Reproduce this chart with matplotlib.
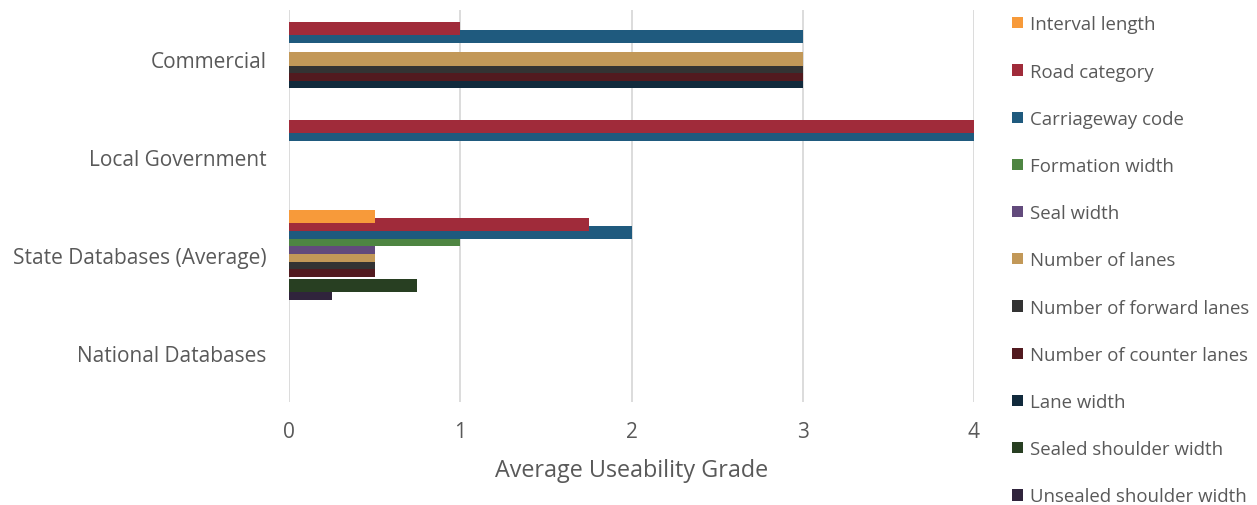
import numpy as np
import matplotlib.pyplot as plt

categories = ['Commercial', 'Local Government', 'State Databases (Average)', 'National Databases']

series_names = ['Interval length', 'Road category', 'Carriageway code', 'Formation width',
                'Seal width', 'Number of lanes', 'Number of forward lanes',
                'Number of counter lanes', 'Lane width', 'Sealed shoulder width',
                'Unsealed shoulder width']

# one list per category, same order as series_names
commercial = [0, 1, 3, 0, 0, 3, 3, 3, 3, 0, 0]
local_gov = [0, 4, 4, 0, 0, 0, 0, 0, 0, 0, 0]
state_avg = [0.5, 1.75, 2, 1, 0.5, 0.5, 0.5, 0.5, 0, 0.75, 0.25]
national = [0, 0, 0, 0, 0, 0, 0, 0, 0, 0, 0]

colors = ['#F79A3A', '#A02B3A', '#1F5A7E', '#4E8542', '#624A7C', '#C29858',
          '#333333', '#521A1F', '#112A3C', '#283F22', '#30243C']

values = np.array([commercial, local_gov, state_avg, national])

plt.rcParams['font.family'] = ['Open Sans', 'DejaVu Sans']
txt = '#595959'

fig = plt.figure(figsize=(12.57, 5.06), dpi=100)
ax = fig.add_axes([289/1257, 103/506, 685/1257, 392/506])

y = np.arange(len(categories))
n = len(series_names)
step = 0.0776
h = 0.1327
handles = []
for i, name in enumerate(series_names):
    b = ax.barh(y + (i - (n - 1) / 2) * step, values[:, i], height=h,
                color=colors[i], label=name, zorder=20 - i)
    handles.append(b)

ax.set_xlim(0, 4)
ax.set_ylim(3.5, -0.5)
ax.set_xticks([0, 1, 2, 3, 4])
ax.set_yticks(y)
ax.set_yticklabels(categories)
ax.grid(axis='x', color='#D9D9D9', linewidth=1.3, zorder=0)
ax.set_axisbelow(True)
for s in ax.spines.values():
    s.set_visible(False)
ax.tick_params(length=0, labelsize=15, colors=txt, pad=14)
ax.tick_params(axis='y', pad=16)
ax.set_xlabel('Average Useability Grade', fontsize=16.8, color=txt, labelpad=11)

fig.legend(handles, series_names, loc='upper left', bbox_to_anchor=(1003/1257, 1 - 7/506),
           frameon=False, fontsize=13.4, labelspacing=1.57, handlelength=0.55,
           handleheight=0.55, handletextpad=0.4, borderpad=0, labelcolor=txt)

plt.savefig('out.png', dpi=100)
